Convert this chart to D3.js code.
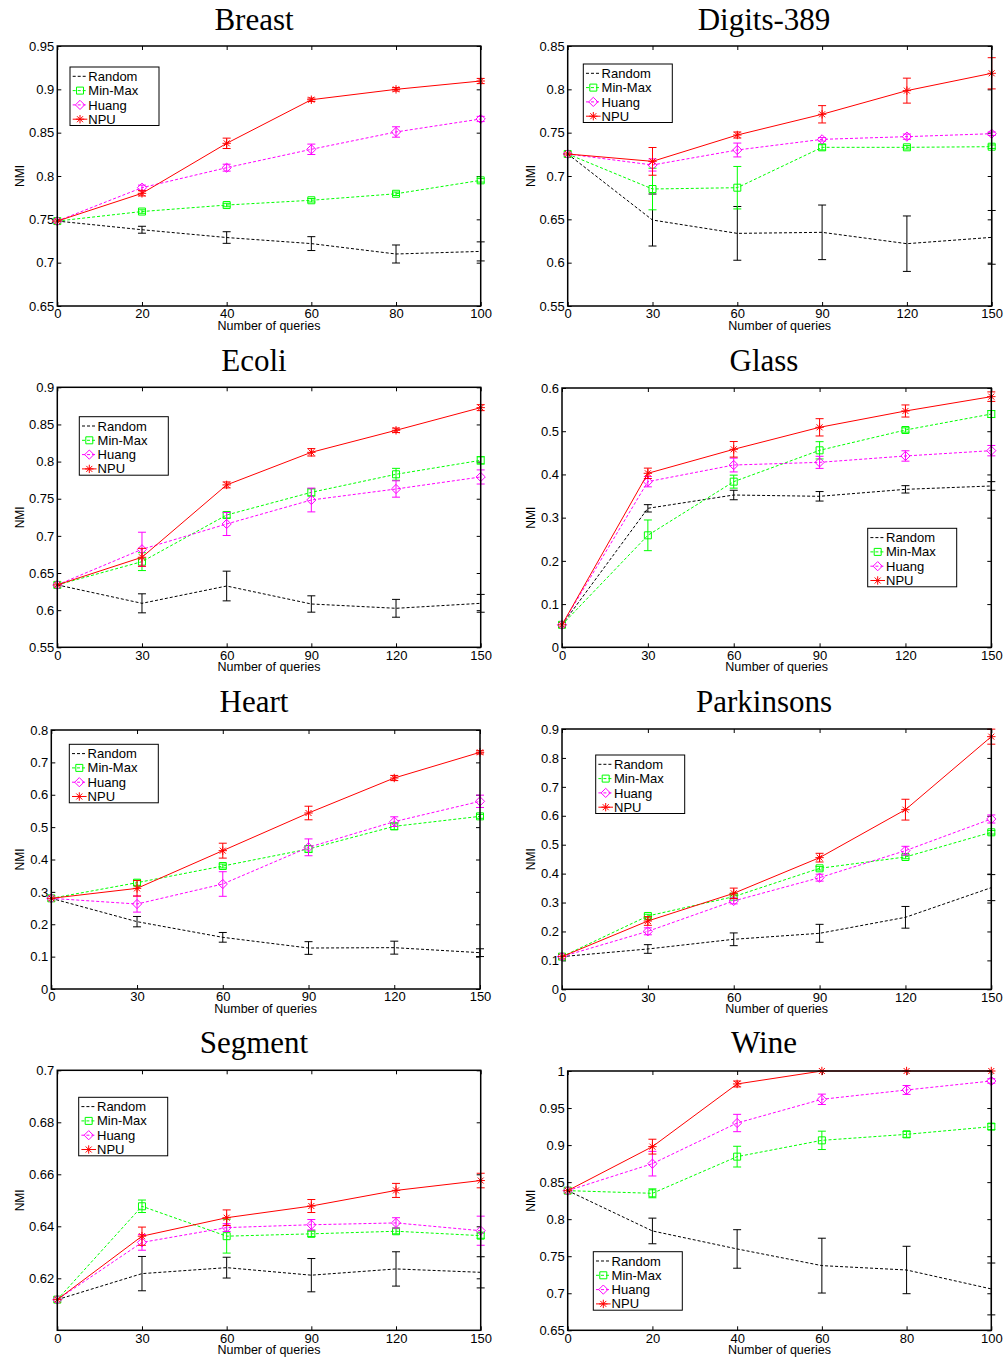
<!DOCTYPE html>
<html>
<head>
<meta charset="utf-8">
<script src="https://cdn.jsdelivr.net/npm/d3@7"></script>
<style>
body { margin: 0; background: #fff; }
svg { display: block; }
</style>
</head>
<body>
<div id="chart"></div>
<script>
// x values (number of queries)
var queries100 = [0, 20, 40, 60, 80, 100];
var queries150 = [0, 30, 60, 90, 120, 150];

var seriesNames = ["Random", "Min-Max", "Huang", "NPU"];
var seriesColors = ["#000000", "#00ff00", "#ff00ff", "#ff0000"];
var seriesDash = ["3,2", "3,2", "3,2", null];
var seriesMarker = [null, "square", "diamond", "asterisk"];

// Breast
var breastYTicks = [0.65, 0.7, 0.75, 0.8, 0.85, 0.9, 0.95];
var breastRandom = [0.748, 0.738, 0.729, 0.722, 0.710, 0.713];
var breastRandomErr = [0, 0.004, 0.0067, 0.008, 0.0104, 0.011];
var breastMinMax = [0.748, 0.759, 0.7665, 0.772, 0.7795, 0.795];
var breastMinMaxErr = [0, 0.002, 0.002, 0.002, 0.002, 0.002];
var breastHuang = [0.748, 0.7865, 0.8096, 0.8308, 0.8508, 0.8658];
var breastHuangErr = [0, 0.003, 0.004, 0.006, 0.006, 0.003];
var breastNPU = [0.748, 0.780, 0.8377, 0.888, 0.900, 0.9096];
var breastNPUErr = [0, 0.003, 0.006, 0.002, 0.002, 0.003];

// Digits-389
var digitsYTicks = [0.55, 0.6, 0.65, 0.7, 0.75, 0.8, 0.85];
var digitsRandom = [0.7254, 0.6492, 0.6338, 0.635, 0.6219, 0.6292];
var digitsRandomErr = [0, 0.030, 0.031, 0.0315, 0.032, 0.031];
var digitsMinMax = [0.7254, 0.685, 0.6865, 0.7331, 0.7331, 0.7338];
var digitsMinMaxErr = [0, 0.024, 0.0245, 0.003, 0.002, 0.002];
var digitsHuang = [0.7254, 0.7127, 0.730, 0.7423, 0.7454, 0.7488];
var digitsHuangErr = [0, 0.007, 0.008, 0.002, 0.003, 0.002];
var digitsNPU = [0.7254, 0.7169, 0.7473, 0.7712, 0.7985, 0.8185];
var digitsNPUErr = [0, 0.016, 0.0035, 0.010, 0.0144, 0.018];

// Ecoli
var ecoliYTicks = [0.55, 0.6, 0.65, 0.7, 0.75, 0.8, 0.85, 0.9];
var ecoliRandom = [0.634, 0.6092, 0.6325, 0.6083, 0.6025, 0.6092];
var ecoliRandomErr = [0, 0.0128, 0.020, 0.011, 0.012, 0.012];
var ecoliMinMax = [0.634, 0.6653, 0.7281, 0.7586, 0.7829, 0.8017];
var ecoliMinMaxErr = [0, 0.012, 0.004, 0.005, 0.008, 0.005];
var ecoliHuang = [0.634, 0.6819, 0.716, 0.7483, 0.7631, 0.7793];
var ecoliHuangErr = [0, 0.023, 0.0155, 0.016, 0.011, 0.0095];
var ecoliNPU = [0.634, 0.6712, 0.7686, 0.8125, 0.8421, 0.8726];
var ecoliNPUErr = [0, 0.012, 0.004, 0.005, 0.003, 0.004];

// Glass
var glassYTicks = [0, 0.1, 0.2, 0.3, 0.4, 0.5, 0.6];
var glassRandom = [0.052, 0.3216, 0.3524, 0.3494, 0.3655, 0.3733];
var glassRandomErr = [0, 0.0085, 0.011, 0.011, 0.0085, 0.01];
var glassMinMax = [0.052, 0.2591, 0.3833, 0.4558, 0.5028, 0.5398];
var glassMinMaxErr = [0, 0.0355, 0.015, 0.02, 0.005, 0.008];
var glassHuang = [0.052, 0.3833, 0.4218, 0.428, 0.4427, 0.455];
var glassHuangErr = [0, 0.012, 0.016, 0.014, 0.012, 0.012];
var glassNPU = [0.052, 0.4026, 0.4581, 0.509, 0.5468, 0.580];
var glassNPUErr = [0, 0.012, 0.018, 0.02, 0.014, 0.011];

// Heart
var heartYTicks = [0, 0.1, 0.2, 0.3, 0.4, 0.5, 0.6, 0.7, 0.8];
var heartRandom = [0.28, 0.208, 0.1596, 0.1266, 0.1277, 0.1122];
var heartRandomErr = [0, 0.016, 0.015, 0.0196, 0.02, 0.012];
var heartMinMax = [0.28, 0.3284, 0.3799, 0.4324, 0.5024, 0.5333];
var heartMinMaxErr = [0, 0.008, 0.006, 0.01, 0.01, 0.006];
var heartHuang = [0.28, 0.2625, 0.3243, 0.4376, 0.5169, 0.5797];
var heartHuangErr = [0, 0.025, 0.038, 0.026, 0.015, 0.019];
var heartNPU = [0.28, 0.3109, 0.4273, 0.5436, 0.6517, 0.731];
var heartNPUErr = [0, 0.024, 0.023, 0.021, 0.008, 0.005];

// Parkinsons
var parkYTicks = [0, 0.1, 0.2, 0.3, 0.4, 0.5, 0.6, 0.7, 0.8, 0.9];
var parkRandom = [0.113, 0.1394, 0.1729, 0.1936, 0.2489, 0.3515];
var parkRandomErr = [0, 0.015, 0.022, 0.031, 0.0375, 0.045];
var parkMinMax = [0.113, 0.2535, 0.3203, 0.4183, 0.4575, 0.5428];
var parkMinMaxErr = [0, 0.006, 0.006, 0.006, 0.006, 0.006];
var parkHuang = [0.113, 0.2005, 0.3054, 0.386, 0.4794, 0.5889];
var parkHuangErr = [0, 0.012, 0.01, 0.012, 0.015, 0.014];
var parkNPU = [0.113, 0.2362, 0.3319, 0.4552, 0.6211, 0.8735];
var parkNPUErr = [0, 0.015, 0.018, 0.015, 0.036, 0.026];

// Segment
var segmentYTicks = [0.62, 0.64, 0.66, 0.68, 0.7];
var segmentRandom = [0.6118, 0.6218, 0.6241, 0.6212, 0.6236, 0.6223];
var segmentRandomErr = [0, 0.0066, 0.004, 0.0064, 0.0066, 0.006];
var segmentMinMax = [0.6118, 0.6477, 0.6362, 0.6371, 0.6381, 0.6364];
var segmentMinMaxErr = [0, 0.0024, 0.0065, 0.001, 0.001, 0.001];
var segmentHuang = [0.6118, 0.6338, 0.6395, 0.6406, 0.6413, 0.6383];
var segmentHuangErr = [0, 0.003, 0.0015, 0.002, 0.002, 0.0056];
var segmentNPU = [0.6118, 0.6362, 0.6433, 0.6478, 0.6538, 0.6576];
var segmentNPUErr = [0, 0.0035, 0.003, 0.0025, 0.0027, 0.0028];

// Wine
var wineYTicks = [0.65, 0.7, 0.75, 0.8, 0.85, 0.9, 0.95, 1];
var wineRandom = [0.8385, 0.7841, 0.7598, 0.7373, 0.7314, 0.7058];
var wineRandomErr = [0, 0.0173, 0.026, 0.037, 0.032, 0.035];
var wineMinMax = [0.8385, 0.8349, 0.8844, 0.9064, 0.9145, 0.9249];
var wineMinMaxErr = [0, 0.006, 0.014, 0.0124, 0.004, 0.004];
var wineHuang = [0.8385, 0.8749, 0.9298, 0.9618, 0.9744, 0.9865];
var wineHuangErr = [0, 0.0166, 0.0117, 0.007, 0.006, 0.003];
var wineNPU = [0.8385, 0.8979, 0.9825, 1.0, 1.0, 1.0];
var wineNPUErr = [0, 0.01, 0.004, 0, 0, 0];

var panels = [
    {title: "Breast", x: queries100, yDomain: [0.65, 0.95], yTicks: breastYTicks,
     means: [breastRandom, breastMinMax, breastHuang, breastNPU],
     errs: [breastRandomErr, breastMinMaxErr, breastHuangErr, breastNPUErr]},
    {title: "Digits-389", x: queries150, yDomain: [0.55, 0.85], yTicks: digitsYTicks,
     means: [digitsRandom, digitsMinMax, digitsHuang, digitsNPU],
     errs: [digitsRandomErr, digitsMinMaxErr, digitsHuangErr, digitsNPUErr]},
    {title: "Ecoli", x: queries150, yDomain: [0.55, 0.9], yTicks: ecoliYTicks,
     means: [ecoliRandom, ecoliMinMax, ecoliHuang, ecoliNPU],
     errs: [ecoliRandomErr, ecoliMinMaxErr, ecoliHuangErr, ecoliNPUErr]},
    {title: "Glass", x: queries150, yDomain: [0, 0.6], yTicks: glassYTicks,
     means: [glassRandom, glassMinMax, glassHuang, glassNPU],
     errs: [glassRandomErr, glassMinMaxErr, glassHuangErr, glassNPUErr]},
    {title: "Heart", x: queries150, yDomain: [0, 0.8], yTicks: heartYTicks,
     means: [heartRandom, heartMinMax, heartHuang, heartNPU],
     errs: [heartRandomErr, heartMinMaxErr, heartHuangErr, heartNPUErr]},
    {title: "Parkinsons", x: queries150, yDomain: [0, 0.9], yTicks: parkYTicks,
     means: [parkRandom, parkMinMax, parkHuang, parkNPU],
     errs: [parkRandomErr, parkMinMaxErr, parkHuangErr, parkNPUErr]},
    {title: "Segment", x: queries150, yDomain: [0.6, 0.7], yTicks: segmentYTicks,
     means: [segmentRandom, segmentMinMax, segmentHuang, segmentNPU],
     errs: [segmentRandomErr, segmentMinMaxErr, segmentHuangErr, segmentNPUErr]},
    {title: "Wine", x: queries100, yDomain: [0.65, 1], yTicks: wineYTicks,
     means: [wineRandom, wineMinMax, wineHuang, wineNPU],
     errs: [wineRandomErr, wineMinMaxErr, wineHuangErr, wineNPUErr]}
];

// layout of each axes box (pixels) + legend corner
var boxes = [
    {left: 57.3, right: 480.7, top: 46, bottom: 306, lx: 70, ly: 67},
    {left: 567.7, right: 991.7, top: 46, bottom: 306, lx: 583.3, ly: 64},
    {left: 57.3, right: 480.7, top: 387.3, bottom: 647.3, lx: 79.3, ly: 416.7},
    {left: 562, right: 991.3, top: 388, bottom: 647.3, lx: 867.7, ly: 528.3},
    {left: 51.3, right: 480, top: 730, bottom: 989, lx: 69.3, ly: 744.3},
    {left: 562, right: 991.3, top: 729, bottom: 989.3, lx: 595.7, ly: 755},
    {left: 57.3, right: 480.7, top: 1070.3, bottom: 1330.3, lx: 78.7, ly: 1097.3},
    {left: 567.7, right: 991.3, top: 1071, bottom: 1330.3, lx: 593.3, ly: 1251.7}
];
var titleX = [254, 764];
var titleY = [30, 371, 712, 1053];
var nmiX = [19.5, 531];

var sansFont = "'Liberation Sans', Arial, Helvetica, sans-serif";
var serifFont = "'Liberation Serif', 'Times New Roman', serif";

var svg = d3.select("#chart")
    .append("svg")
    .attr("width", 1006)
    .attr("height", 1357);

svg.append("rect").attr("width", 1006).attr("height", 1357).attr("fill", "#fff");

function markerPath(type) {
    if (type == "square") return "M-3.5,-3.5h7v7h-7z";
    if (type == "diamond") return "M0,-4.6L4.6,0L0,4.6L-4.6,0Z";
    if (type == "asterisk") return "M-4.2,0H4.2M0,-4.2V4.2M-3,-3L3,3M-3,3L3,-3";
    return null;
}

var fmt = d3.format("");

panels.forEach(function(p, i) {
    var b = boxes[i];
    var col = i % 2;
    var row = Math.floor(i / 2);
    var g = svg.append("g");

    var xScale = d3.scaleLinear()
        .domain([p.x[0], p.x[p.x.length - 1]])
        .range([b.left, b.right]);
    var yScale = d3.scaleLinear()
        .domain(p.yDomain)
        .range([b.bottom, b.top]);

    // axes, ticks pointing inward on all four sides
    var gx = g.append("g")
        .attr("transform", "translate(0," + b.bottom + ")")
        .call(d3.axisBottom(xScale).tickValues(p.x).tickFormat(fmt).tickSizeInner(-4).tickSizeOuter(0).tickPadding(3));
    var gxt = g.append("g")
        .attr("transform", "translate(0," + b.top + ")")
        .call(d3.axisTop(xScale).tickValues(p.x).tickFormat("").tickSizeInner(-4).tickSizeOuter(0));
    var gy = g.append("g")
        .attr("transform", "translate(" + b.left + ",0)")
        .call(d3.axisLeft(yScale).tickValues(p.yTicks).tickFormat(fmt).tickSizeInner(-4).tickSizeOuter(0).tickPadding(3));
    var gyr = g.append("g")
        .attr("transform", "translate(" + b.right + ",0)")
        .call(d3.axisRight(yScale).tickValues(p.yTicks).tickFormat("").tickSizeInner(-4).tickSizeOuter(0));

    [gx, gxt, gy, gyr].forEach(function(a) {
        a.select(".domain").remove();
        a.selectAll(".tick line").attr("stroke", "#000").attr("stroke-width", 1);
        a.selectAll("text")
            .attr("fill", "#000")
            .style("font-family", sansFont)
            .style("font-size", "13px");
    });

    // data series
    seriesNames.forEach(function(name, s) {
        var pts = p.x.map(function(xv, k) {
            return {x: xv, y: p.means[s][k], e: p.errs[s][k]};
        });
        var line = d3.line()
            .x(function(d) { return xScale(d.x); })
            .y(function(d) { return yScale(d.y); });

        g.append("path")
            .datum(pts)
            .attr("d", line)
            .attr("fill", "none")
            .attr("stroke", seriesColors[s])
            .attr("stroke-width", 1)
            .attr("stroke-dasharray", seriesDash[s]);

        // error bars
        var eb = g.append("g").attr("stroke", seriesColors[s]).attr("stroke-width", 1).attr("fill", "none");
        pts.filter(function(d) { return d.e > 0; }).forEach(function(d) {
            var cx = xScale(d.x);
            var y0 = yScale(d.y - d.e);
            var y1 = yScale(d.y + d.e);
            eb.append("path")
                .attr("d", "M" + cx + "," + y0 + "V" + y1 +
                    "M" + (cx - 4) + "," + y0 + "H" + (cx + 4) +
                    "M" + (cx - 4) + "," + y1 + "H" + (cx + 4));
        });

        if (seriesMarker[s]) {
            g.append("g").selectAll("path")
                .data(pts)
                .enter().append("path")
                .attr("transform", function(d) { return "translate(" + xScale(d.x) + "," + yScale(d.y) + ")"; })
                .attr("d", markerPath(seriesMarker[s]))
                .attr("fill", "none")
                .attr("stroke", seriesColors[s])
                .attr("stroke-width", 1);
        }
    });

    // axes frame
    g.append("rect")
        .attr("x", b.left)
        .attr("y", b.top)
        .attr("width", b.right - b.left)
        .attr("height", b.bottom - b.top)
        .attr("fill", "none")
        .attr("stroke", "#000")
        .attr("stroke-width", 1.5);

    // title and axis labels
    g.append("text")
        .attr("x", titleX[col])
        .attr("y", titleY[row])
        .attr("text-anchor", "middle")
        .style("font-family", serifFont)
        .style("font-size", "31px")
        .text(p.title);

    g.append("text")
        .attr("x", (b.left + b.right) / 2)
        .attr("y", b.bottom + 24)
        .attr("text-anchor", "middle")
        .style("font-family", sansFont)
        .style("font-size", "12.5px")
        .text("Number of queries");

    g.append("text")
        .attr("transform", "translate(" + (nmiX[col] + 4) + "," + ((b.top + b.bottom) / 2) + ") rotate(-90)")
        .attr("text-anchor", "middle")
        .style("font-family", sansFont)
        .style("font-size", "12px")
        .text("NMI");

    // legend
    var lg = g.append("g").attr("transform", "translate(" + b.lx + "," + b.ly + ")");
    lg.append("rect")
        .attr("width", 89)
        .attr("height", 58.5)
        .attr("fill", "#fff")
        .attr("stroke", "#000")
        .attr("stroke-width", 1);
    seriesNames.forEach(function(name, s) {
        var yy = 9.3 + s * 14.3;
        lg.append("line")
            .attr("x1", 2.7).attr("x2", 17.3)
            .attr("y1", yy).attr("y2", yy)
            .attr("stroke", seriesColors[s])
            .attr("stroke-width", 1)
            .attr("stroke-dasharray", seriesDash[s]);
        if (seriesMarker[s]) {
            lg.append("path")
                .attr("transform", "translate(10," + yy + ")")
                .attr("d", markerPath(seriesMarker[s]))
                .attr("fill", "none")
                .attr("stroke", seriesColors[s])
                .attr("stroke-width", 1);
        }
        lg.append("text")
            .attr("x", 18.3)
            .attr("y", yy + 4.6)
            .style("font-family", sansFont)
            .style("font-size", "13px")
            .text(name);
    });
});
</script>
</body>
</html>
